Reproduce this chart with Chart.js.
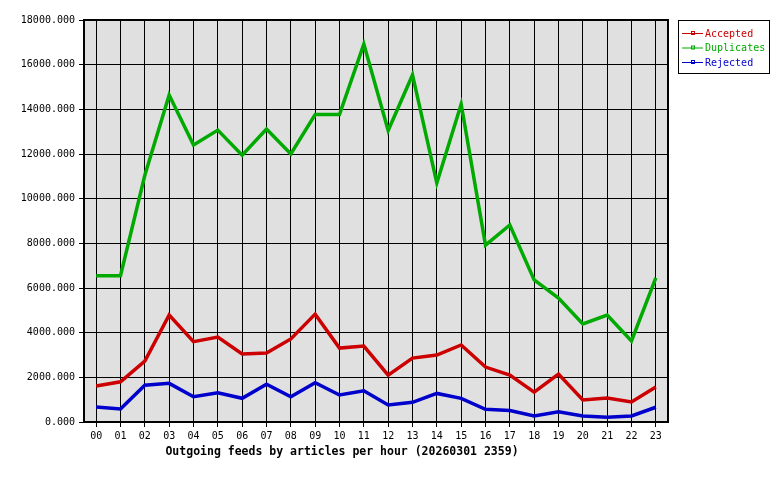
<!DOCTYPE html>
<html>
<head>
<meta charset="utf-8">
<script src="https://cdn.jsdelivr.net/npm/chart.js@4"></script>
<style>
  body { margin: 0; background: #fff; }
  #wrap { width: 780px; height: 480px; }
</style>
</head>
<body>
<div id="wrap"><canvas id="chart1"></canvas></div>
<script>
// donnees
var hours = ["00","01","02","03","04","05","06","07","08","09","10","11",
             "12","13","14","15","16","17","18","19","20","21","22","23"];

var accepted = [1610, 1800, 2730, 4790, 3600, 3800, 3050, 3090, 3720, 4830, 3310, 3400,
                2100, 2860, 3000, 3450, 2460, 2100, 1340, 2150, 990, 1070, 900, 1570];

var duplicates = [6550, 6550, 11050, 14640, 12400, 13070, 11950, 13120, 12000, 13770, 13770, 16920,
                  13050, 15540, 10700, 14230, 7920, 8820, 6360, 5550, 4390, 4790, 3630, 6450];

var rejected = [670, 580, 1650, 1730, 1130, 1310, 1060, 1690, 1130, 1760, 1210, 1400,
                760, 880, 1280, 1060, 570, 510, 270, 460, 270, 210, 270, 660];

var yTicks = [0, 2000, 4000, 6000, 8000, 10000, 12000, 14000, 16000, 18000];

var titre = "Outgoing feeds by articles per hour (20260301 2359)";

var mono = "'DejaVu Sans Mono', monospace";

// fond gris + cadre noir de la zone du graphique
var cadre = {
    id: 'cadre',
    beforeDraw: function(chart) {
        var a = chart.chartArea;
        var ctx = chart.ctx;
        ctx.save();
        ctx.fillStyle = '#e0e0e0';
        ctx.fillRect(a.left, a.top, a.right - a.left, a.bottom - a.top);
        ctx.restore();
    },
    beforeDatasetsDraw: function(chart) {
        var a = chart.chartArea;
        var ctx = chart.ctx;
        ctx.save();
        ctx.strokeStyle = '#000';
        ctx.lineWidth = 2;
        ctx.strokeRect(a.left, a.top, a.right - a.left, a.bottom - a.top);
        ctx.restore();
    },
    afterDraw: function(chart) {
        var a = chart.chartArea;
        var ctx = chart.ctx;
        ctx.save();
        // titre en bas
        ctx.font = "bold 11.5px " + mono;
        ctx.fillStyle = '#000';
        ctx.textAlign = 'center';
        ctx.textBaseline = 'middle';
        ctx.fillText(titre, a.left + 258, a.bottom + 30);

        // legende a droite
        var lx = a.right + 10, ly = a.top;
        ctx.fillStyle = '#fff';
        ctx.fillRect(lx, ly, 92, 54);
        ctx.strokeStyle = '#000';
        ctx.lineWidth = 1;
        ctx.strokeRect(lx + 0.5, ly + 0.5, 91, 53);
        ctx.font = "10px " + mono;
        ctx.textAlign = 'left';
        chart.data.datasets.forEach(function(ds, i) {
            var y = ly + 13 + i * 14.5;
            ctx.strokeStyle = ds.borderColor;
            ctx.beginPath();
            ctx.moveTo(lx + 4, y + 0.5);
            ctx.lineTo(lx + 25, y + 0.5);
            ctx.stroke();
            ctx.strokeRect(lx + 13.5, y - 1.5, 3, 3);
            ctx.fillStyle = ds.borderColor;
            ctx.fillText(ds.label, lx + 27, y + 1);
        });
        ctx.restore();
    }
};

var ctx = document.getElementById('chart1').getContext('2d');
var myChart = new Chart(ctx, {
    type: 'line',
    data: {
        labels: hours,
        datasets: [
            { label: 'Accepted', data: accepted, borderColor: '#cc0000' },
            { label: 'Duplicates', data: duplicates, borderColor: '#00aa00' },
            { label: 'Rejected', data: rejected, borderColor: '#0000cc' }
        ]
    },
    options: {
        responsive: true,
        maintainAspectRatio: false,
        animation: false,
        layout: { padding: { left: 0, right: 112, top: 20, bottom: 0 } },
        elements: {
            line: { borderWidth: 3.5, tension: 0, borderJoinStyle: 'miter' },
            point: { radius: 0 }
        },
        plugins: {
            legend: { display: false },
            title: { display: false },
            tooltip: { enabled: false }
        },
        scales: {
            x: {
                offset: true,
                grid: { offset: false, color: '#000', lineWidth: 1, tickLength: 5, tickColor: '#000' },
                border: { display: false },
                ticks: { color: '#000', font: { family: mono, size: 10 }, padding: 3, maxRotation: 0, autoSkip: false },
                afterFit: function(s) { s.height = 58; }
            },
            y: {
                min: 0,
                max: 18000,
                afterBuildTicks: function(s) { s.ticks = yTicks.map(function(v) { return { value: v }; }); },
                grid: { color: '#000', lineWidth: 1, tickLength: 5, tickColor: '#000' },
                border: { display: false },
                ticks: {
                    color: '#000', font: { family: mono, size: 10 }, padding: 4,
                    callback: function(v) { return Number(v).toFixed(3); }
                },
                afterFit: function(s) { s.width = 84; }
            }
        }
    },
    plugins: [cadre]
});
</script>
</body>
</html>
